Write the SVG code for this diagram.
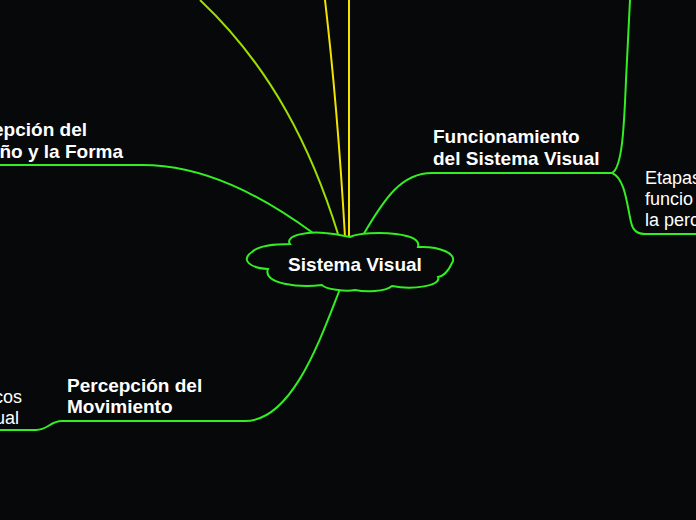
<svg xmlns="http://www.w3.org/2000/svg" width="696" height="520" viewBox="0 0 696 520">
<style>
.g{fill:none;stroke:#33ee22;stroke-width:2;stroke-linecap:round}
.y{fill:none;stroke:#f2e400;stroke-width:2}
.yg{fill:none;stroke:#9cdf00;stroke-width:2}
.b{font-family:"Liberation Sans",Arial,sans-serif;font-weight:bold;font-size:19px;fill:#ffffff}
.r{font-family:"Liberation Sans",Arial,sans-serif;font-size:18px;fill:#ffffff}
</style>
<rect width="696" height="520" fill="#06080a"/>
<g id="connectors">
<path class="yg" d="M338,234 C312,150 272,68 200,0"/>
<path class="y" d="M345,237 C340,150 332,60 325,0"/>
<path class="y" d="M349,237 L349,0"/>
<path class="g" d="M362,237 C385,197 402,173 432,173 L612,173"/>
<path class="g" d="M612,173 C622,168 624,130 626,80 L630,0"/>
<path class="g" d="M612,173 C625,178 627,205 631,222 C633,231 637,234 646,234 L696,234"/>
<path class="g" d="M313,233 C262,196 205,165 142,165 L0,165"/>
<path class="g" d="M340,289 C320,340 292,421 245,421 L62,421 C50,421 48,430 36,430 L0,430"/>
</g>
<g id="sistema-visual">
<path d="M290,244 C284,235 310,231 325,233 C337,234 345,236 350,237 C358,233 380,232 396,234 C412,236 420,240 418,247 C440,246 458,254 452,263 C448,272 444,276 438,277 C442,286 412,290 392,286 C385,292 365,292 355,290 C346,292 325,289 322,285 C300,288 262,284 268,269 C250,268 240,260 252,252 C258,246 275,244 290,244 Z" fill="#06080a" stroke="#33ee22" stroke-width="2"/>
<text class="b" x="355" y="271" text-anchor="middle">Sistema Visual</text>
</g>
<g id="funcionamiento">
<text class="b" x="433" y="143">Funcionamiento</text>
<text class="b" x="433" y="165">del Sistema Visual</text>
</g>
<g id="etapas">
<text class="r" x="645" y="184">Etapas</text>
<text class="r" x="645" y="205">funcio</text>
<text class="r" x="645" y="226">la perc</text>
</g>
<g id="tamano-forma">
<text class="b" x="87" y="136" text-anchor="end">epción del</text>
<text class="b" x="123" y="158" text-anchor="end">ño y la Forma</text>
</g>
<g id="movimiento">
<text class="b" x="67" y="392">Percepción del</text>
<text class="b" x="67" y="413">Movimiento</text>
</g>
<g id="left-bottom">
<text class="r" x="22" y="403" text-anchor="end">cos</text>
<text class="r" x="19" y="424" text-anchor="end">ual</text>
</g>
</svg>
